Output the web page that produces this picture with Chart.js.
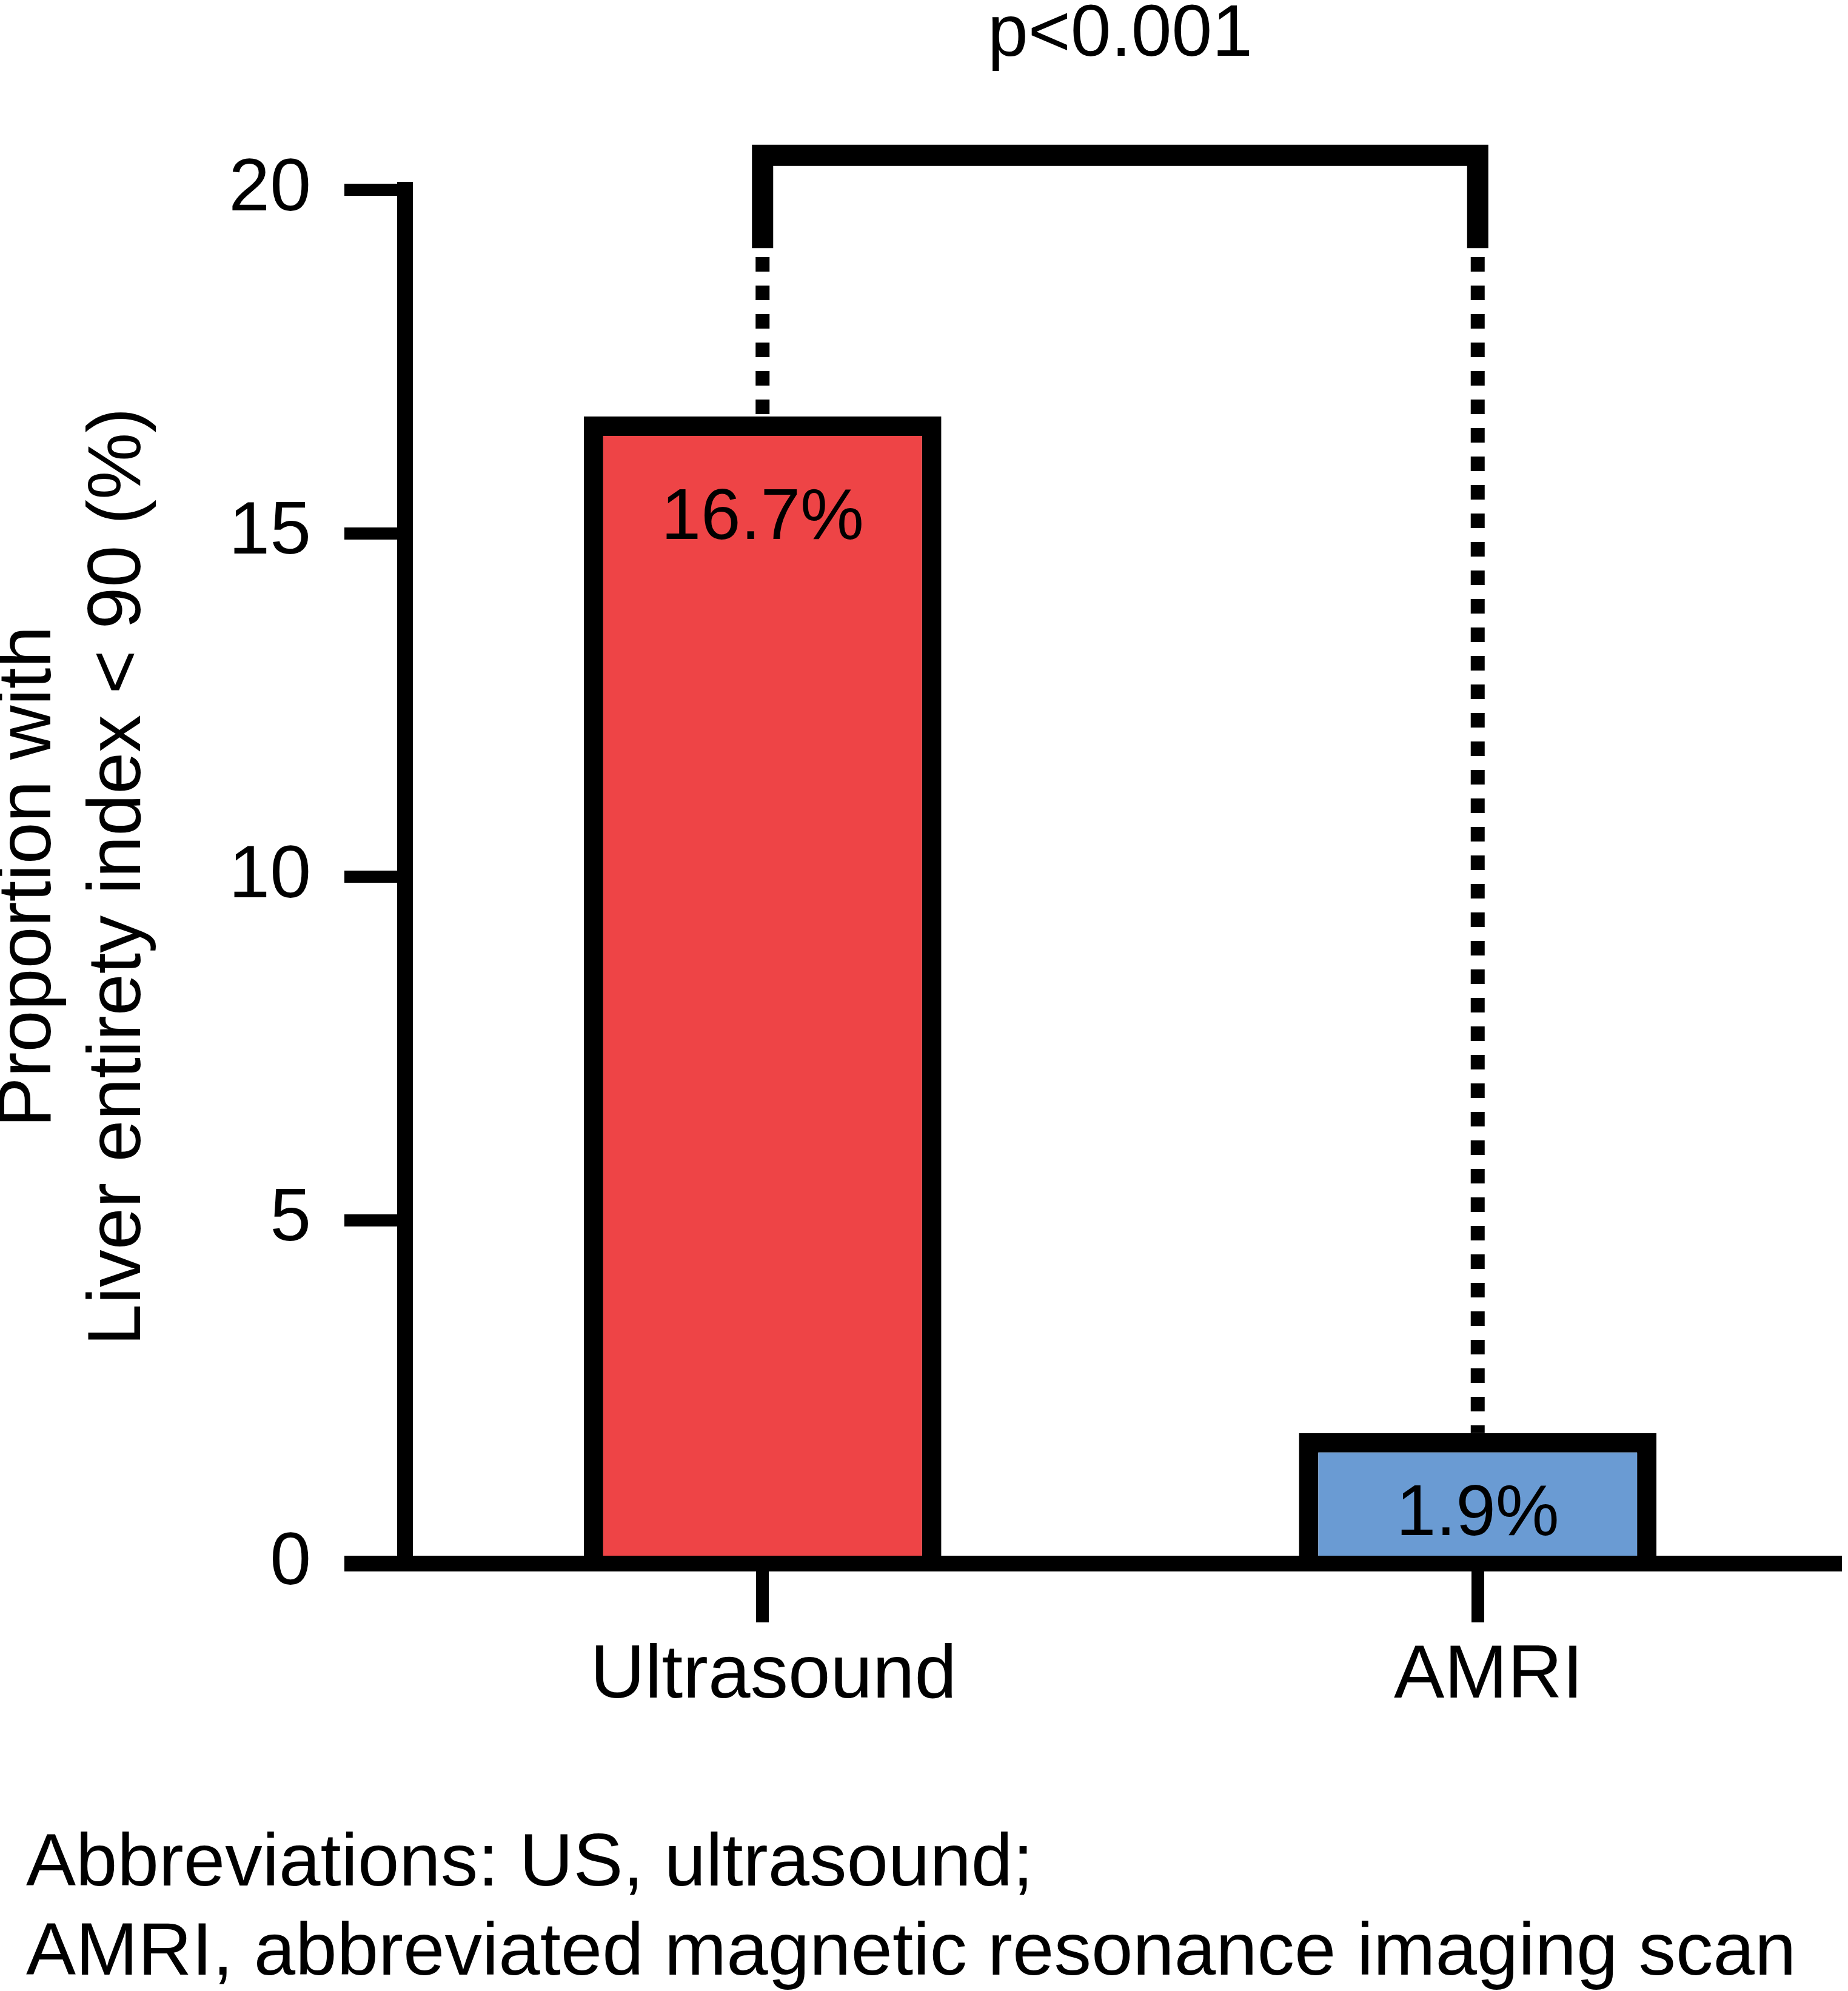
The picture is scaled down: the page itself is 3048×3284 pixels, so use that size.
<!DOCTYPE html>
<html><head><meta charset="utf-8">
<script src="https://cdn.jsdelivr.net/npm/chart.js@4.4.0/dist/chart.umd.min.js"></script>
<style>html,body{margin:0;padding:0;background:#fff;} canvas{display:block;}</style>
</head><body>
<canvas id="c" width="3048" height="3284" style="width:3048px;height:3284px"></canvas>
<script>
const categories = ['Ultrasound', 'AMRI'];
const values = [16.7, 1.9];
const barColors = ['#EE4446', '#6A9BD3'];
const yTickValues = [0, 5, 10, 15, 20];
const yAxisTitle = ['Proportion with', 'Liver entirety index < 90 (%)'];
const pValueText = 'p<0.001';
const bracketLevel = 20.5;
const bracketLegEnd = 19.15;
const dottedStart = 19.02;
const pValueLevel = 21.95;
const footnoteLines = ['Abbreviations: US, ultrasound;', 'AMRI, abbreviated magnetic resonance imaging scan'];

const FONT = '"Liberation Sans", Arial, Helvetica, sans-serif';

const annot = {
  id: 'annot',
  afterDraw(chart) {
    const {ctx, scales: {y}} = chart;
    const meta = chart.getDatasetMeta(0);
    ctx.save();
    // dotted connectors
    ctx.strokeStyle = '#000';
    ctx.lineWidth = 23;
    ctx.lineCap = 'butt';
    ctx.setLineDash([24, 23]);
    meta.data.forEach(bar => {
      ctx.beginPath();
      ctx.moveTo(bar.x, y.getPixelForValue(dottedStart));
      ctx.lineTo(bar.x, bar.y);
      ctx.stroke();
    });
    ctx.setLineDash([]);
    // bracket
    const x1 = meta.data[0].x, x2 = meta.data[1].x;
    const yTop = y.getPixelForValue(bracketLevel);
    const yLeg = y.getPixelForValue(bracketLegEnd);
    ctx.lineWidth = 35;
    ctx.lineJoin = 'miter';
    ctx.beginPath();
    ctx.moveTo(x1, yLeg);
    ctx.lineTo(x1, yTop);
    ctx.lineTo(x2, yTop);
    ctx.lineTo(x2, yLeg);
    ctx.stroke();
    // p-value
    ctx.fillStyle = '#000';
    ctx.font = '120px ' + FONT;
    ctx.textAlign = 'center';
    ctx.textBaseline = 'alphabetic';
    ctx.fillText(pValueText, (x1 + x2) / 2, y.getPixelForValue(pValueLevel));
    // bar value labels
    ctx.font = '118px ' + FONT;
    meta.data.forEach((bar, i) => {
      const mid = (bar.y + bar.base) / 2;
      const baseline = Math.min(bar.y + 202, mid + 67);
      ctx.fillText(values[i].toFixed(1) + '%', bar.x, baseline);
    });
    // footnote
    ctx.textAlign = 'left';
    ctx.font = '123px ' + FONT;
    ctx.fillText(footnoteLines[0], 43, 3110);
    ctx.fillText(footnoteLines[1], 43, 3257);
    ctx.restore();
  }
};

new Chart(document.getElementById('c'), {
  type: 'bar',
  data: {
    labels: categories,
    datasets: [{
      data: values,
      backgroundColor: barColors,
      borderColor: '#000',
      borderWidth: 32,
      borderSkipped: 'bottom',
      barPercentage: 0.5,
      categoryPercentage: 1.0
    }]
  },
  options: {
    responsive: false,
    animation: false,
    devicePixelRatio: 1,
    layout: {padding: {top: 313, left: 0, right: 21, bottom: 0}},
    plugins: {legend: {display: false}, tooltip: {enabled: false}},
    scales: {
      x: {
        offset: true,
        grid: {display: true, drawOnChartArea: false, drawTicks: true, tickLength: 97, lineWidth: 21, color: '#000', offset: false},
        border: {display: true, width: 26, color: '#000'},
        ticks: {color: '#000', font: {family: FONT, size: 125}, padding: 15, labelOffset: 18, maxRotation: 0},
        afterFit(scale) { scale.height = 3284 - 2579; }
      },
      y: {
        min: 0, max: 20,
        afterBuildTicks(scale) { scale.ticks = yTickValues.map(v => ({value: v})); },
        grid: {display: true, drawOnChartArea: false, drawTicks: true, tickLength: 100,
               lineWidth: c => (c.tick && c.tick.value === 0 ? 26 : 20), color: '#000'},
        border: {display: true, width: 26, color: '#000'},
        ticks: {color: '#000', font: {family: FONT, size: 122}, padding: 55},
        title: {display: true, text: yAxisTitle, color: '#000', font: {family: FONT, size: 124, lineHeight: 1.19}, padding: {top: -25, bottom: 0}},
        afterFit(scale) { scale.width = 668; }
      }
    }
  },
  plugins: [annot]
});
</script>
</body></html>
